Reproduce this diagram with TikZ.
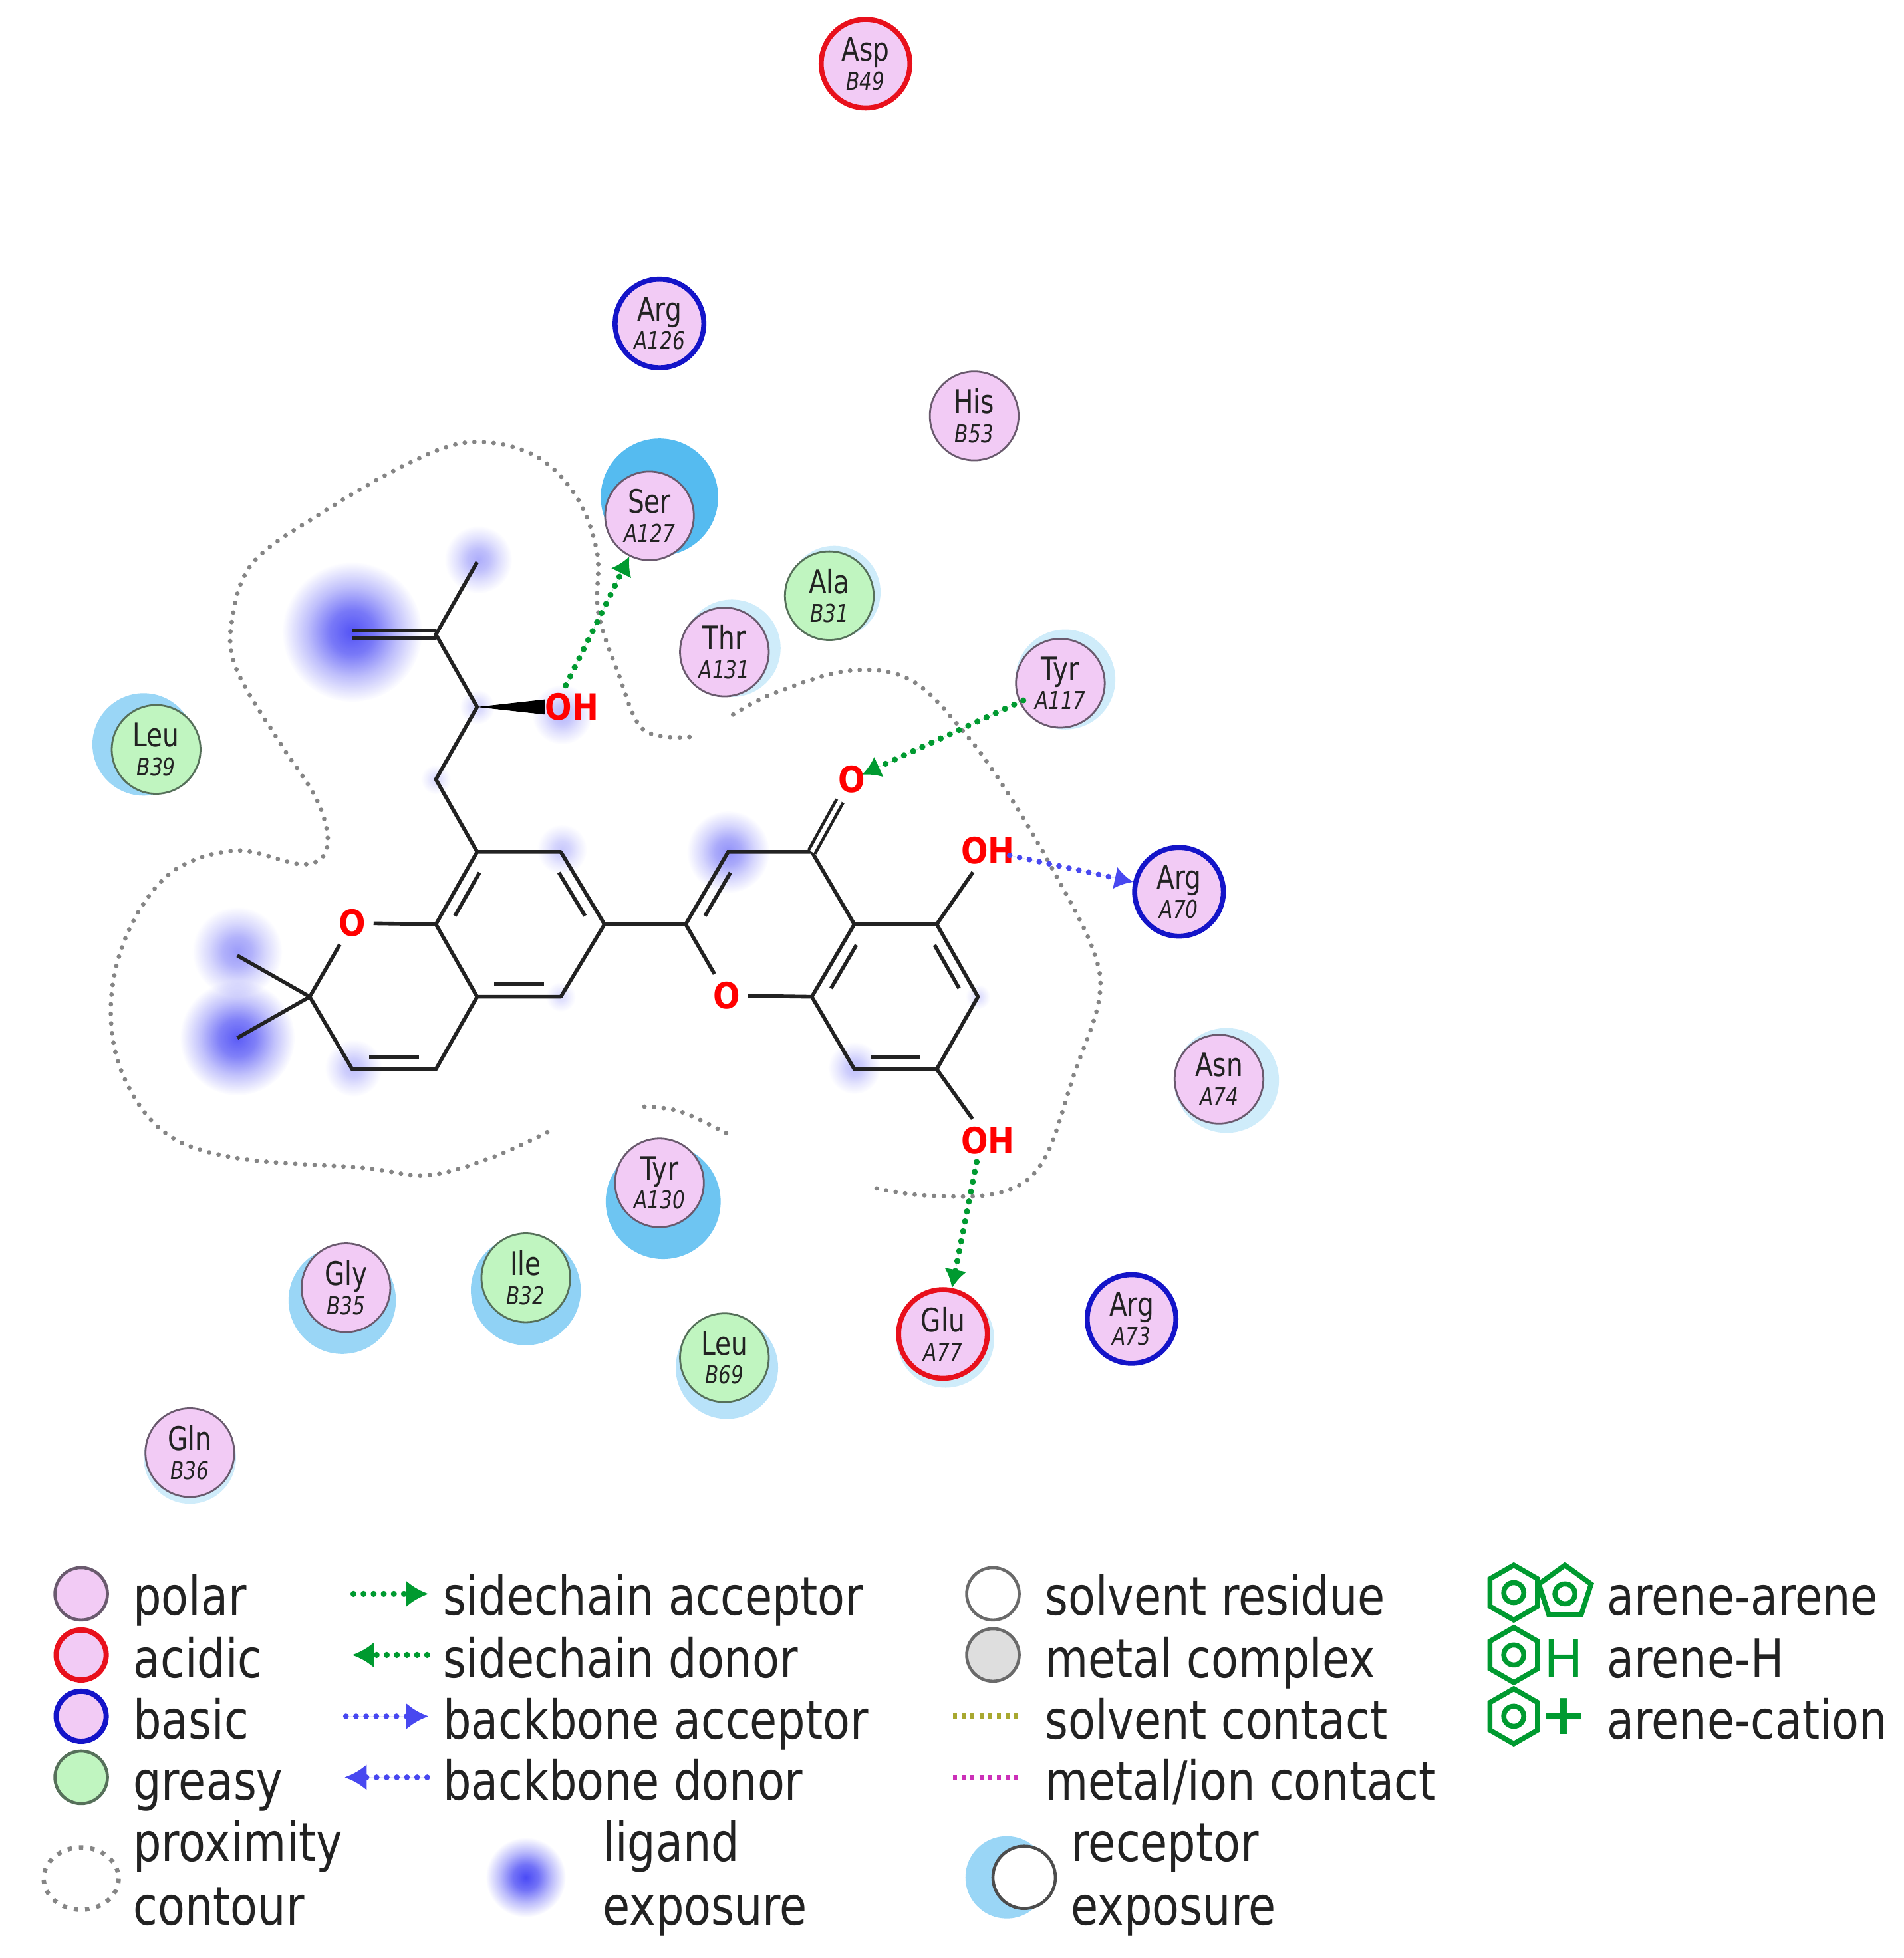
\documentclass[tikz,border=0pt]{standalone}
\usepackage{fontspec}
\usetikzlibrary{arrows.meta,calc,fadings,shapes.geometric}
\newfontfamily\lgf{DejaVu Sans}[FakeStretch=0.83]
\newfontfamily\resf{DejaVu Sans}[FakeStretch=0.8]
\newfontfamily\atomf{DejaVu Sans}[FakeStretch=0.88]
\newfontfamily\plainf{DejaVu Sans}
\definecolor{polarfill}{HTML}{F2CBF5}
\definecolor{greasyfill}{HTML}{C0F5C0}
\definecolor{polaredge}{HTML}{6A5A6E}
\definecolor{greasyedge}{HTML}{56705A}
\definecolor{acid}{HTML}{E8101C}
\definecolor{base}{HTML}{1414C8}
\definecolor{expA}{HTML}{55BBF0}
\definecolor{expB}{HTML}{9AD6F6}
\definecolor{expC}{HTML}{CFECFA}
\definecolor{blob}{HTML}{4A4AF5}
\definecolor{hbgreen}{HTML}{009A30}
\definecolor{hbblue}{HTML}{4848F0}
\definecolor{dotgrey}{HTML}{858585}
\definecolor{inkc}{HTML}{222222}
\definecolor{aregreen}{HTML}{009A30}
\definecolor{solv}{HTML}{A8A830}
\definecolor{metalc}{HTML}{CC30B8}
\pgfdeclareradialshading{blobshade}{\pgfpoint{0bp}{0bp}}{color(0bp)=(pgftransparent!0); color(8bp)=(pgftransparent!22); color(16bp)=(pgftransparent!62); color(25bp)=(pgftransparent!100); color(50bp)=(pgftransparent!100)}
\pgfdeclarefading{blobfade}{\pgfuseshading{blobshade}}
\newcommand{\resid}[2]{{\fontsize{7.4pt}{6.6pt}\selectfont #1}\\{\fontsize{5.6pt}{6.6pt}\itshape\selectfont #2}}
\newcommand{\inbond}[3]{\draw[bondline] ($(#1)!.14!(#2)!.17!(#3)$) -- ($(#2)!.14!(#1)!.17!(#3)$);}
\tikzset{
  residue/.style={circle,inner sep=0pt,minimum size=0.71cm,align=center,text=inkc,font=\resf\fontsize{7.4pt}{6.6pt}\selectfont,line width=0.42pt},
  rpolar/.style={residue,draw=polaredge,fill=polarfill},
  rgreasy/.style={residue,draw=greasyedge,fill=greasyfill},
  racid/.style={residue,draw=acid,fill=polarfill,line width=1.15pt},
  rbasic/.style={residue,draw=base,fill=polarfill,line width=1.15pt},
  bondline/.style={draw=inkc,line width=0.85pt},
  atomlab/.style={text=red,font=\atomf\bfseries\fontsize{8.2pt}{9pt}\selectfont,inner sep=1.6pt},
  contour/.style={draw=dotgrey,line width=1.05pt,line cap=round,dash pattern=on 0pt off 2.2pt},
  hbg/.style={draw=hbgreen,fill=hbgreen,line width=1.4pt,line cap=round,dash pattern=on 0pt off 2.3pt,-{Latex[length=4.2pt,width=5.2pt]}},
  hbb/.style={draw=hbblue,fill=hbblue,line width=1.3pt,line cap=round,dash pattern=on 0pt off 2.3pt,-{Latex[length=4.2pt,width=5.2pt]}},
  legtext/.style={anchor=base west,inner sep=0pt,text=inkc,font=\lgf\fontsize{12.2pt}{14pt}\selectfont},
  legdot/.style={line width=1.2pt,dash pattern=on 0.9pt off 1.1pt},
  hexa/.style={regular polygon,regular polygon sides=6,draw=aregreen,line width=1.15pt,inner sep=0pt,minimum size=0.44cm,shape border rotate=30},
  penta/.style={regular polygon,regular polygon sides=5,draw=aregreen,line width=1.15pt,inner sep=0pt,minimum size=0.44cm},
  aring/.style={circle,draw=aregreen,line width=1.15pt,inner sep=0pt,minimum size=0.16cm},
  expo/.style={fill=blob,path fading=blobfade}
}
\begin{document}
\begin{tikzpicture}[x=0.01cm,y=-0.01cm]
\useasboundingbox (0,0) rectangle (1524,1567.6);
% receptor exposure
\fill[expA] (528,398) circle (47);
\fill[expC] (668,474) circle (37);
\fill[expC] (586,519) circle (39);
\fill[expC] (853,544) circle (40);
\fill[expB] (115,596) circle (41);
\fill[expC] (982,865) circle (42);
\fill[expA!85] (531,962) circle (46);
\fill[expB] (274,1041) circle (43);
\fill[expB!85!expA] (421,1033) circle (44);
\fill[expB!70] (582,1095) circle (41);
\fill[expC] (757,1072) circle (39);
\fill[expC] (152,1167) circle (37);
% ligand exposure
\foreach \px/\py/\pr/\po in {282/506/56/0.95,383/448/27/0.45,190/831/46/0.9,190/762/36/0.55,450/572/24/0.4,450/680/20/0.3,583/682/33/0.6,684/855/21/0.35,283/855/23/0.35,382/566/14/0.25,349/624/12/0.2,449/798/12/0.2,783/798/10/0.2}
  {\fill[expo,fill opacity=\po] (\px,\py) circle (\pr);}
% proximity contours
\draw[contour] plot[smooth,tension=0.6] coordinates {(552,590)(515,584)(495,539)(479,490)(478,442)(461,397)(427,364)(376,354)(325,372)(257,411)(203,450)(186,495)(189,535)(223,593)(254,641)(262,678)(243,692)(189,681)(138,698)(104,743)(89,800)(97,857)(131,906)(189,927)(291,935)(342,941)(393,927)(439,906)};
\draw[contour] plot[smooth,tension=0.6] coordinates {(587,572)(620,555)(680,537)(730,545)(775,590)(810,640)(845,700)(875,760)(880,800)(860,860)(835,930)(800,955)(740,957)(695,950)};
\draw[contour] plot[smooth,tension=0.6] coordinates {(516,886)(545,890)(583,908)};
% atoms
\foreach \n/\px/\py in {a1/382/682,a2/449/682,a3/484/740,a4/449/798,a5/382/798,a6/349/740,
  p1/248/798,p2/282/856,p3/349/856,m1/190/765,m2/190/831,
  c1/349/624,c2/382/566,c3/349/508,c4/382/450,c5/282/508,
  b1/549/740,b2/583/682,b3/650/682,b4/684/740,b5/650/798,
  d1/750/740,d2/783/798,d3/750/856,d4/684/856}
  {\coordinate (\n) at (\px,\py);}
\coordinate (lc) at (416,740);
\coordinate (lp) at (315,798);
\coordinate (rp) at (617,740);
\coordinate (rc) at (717,798);
\node[atomlab] (o1) at (282,739) {O};
\node[atomlab] (o2) at (582,797) {O};
\node[atomlab] (o3) at (682,624) {O};
\node[atomlab] (oh1) at (458,566) {OH};
\node[atomlab] (oh2) at (791,681) {OH};
\node[atomlab] (oh3) at (791,913) {OH};
% bonds
\draw[bondline,line join=round] (a1)--(a2)--(a3)--(a4)--(a5)--(a6)--(a1);
\draw[bondline] (a5)--(p3)--(p2)--(p1)--(o1)--(a6);
\draw[bondline] (p1)--(m1);
\draw[bondline] (p1)--(m2);
\draw[bondline] (a1)--(c1)--(c2)--(c3)--(c4);
\draw[bondline] ($(c3)+(0,3)$)--($(c5)+(0,3)$);
\draw[bondline] ($(c3)+(0,-3)$)--($(c5)+(0,-3)$);
\fill[black] (c2)--(436,560)--(436,572)--cycle;
\draw[bondline] (a3)--(b1)--(b2)--(b3)--(b4)--(b5)--(o2)--(b1);
\draw[bondline] (b4)--(d1)--(d2)--(d3)--(d4)--(b5);
\draw[bondline] (d1)--(oh2);
\draw[bondline] (d3)--(oh3);
\draw[draw=inkc,double,double distance=0.95pt,line width=0.7pt] (b3)--(o3);
\inbond{a1}{a6}{lc}
\inbond{a2}{a3}{lc}
\inbond{a4}{a5}{lc}
\inbond{p2}{p3}{lp}
\inbond{b1}{b2}{rp}
\inbond{b4}{b5}{rc}
\inbond{d1}{d2}{rc}
\inbond{d3}{d4}{rc}
% residues
\node[racid] (asp) at (693,51) {\resid{Asp}{B49}};
\node[rbasic] (arg1) at (528,259) {\resid{Arg}{A126}};
\node[rpolar] (his) at (780,333) {\resid{His}{B53}};
\node[rpolar] (ser) at (520,413) {\resid{Ser}{A127}};
\node[rgreasy] (ala) at (664,477) {\resid{Ala}{B31}};
\node[rpolar] (thr) at (580,522) {\resid{Thr}{A131}};
\node[rpolar] (tyr1) at (849,547) {\resid{Tyr}{A117}};
\node[rgreasy] (leu1) at (125,600) {\resid{Leu}{B39}};
\node[rbasic] (arg2) at (944,714) {\resid{Arg}{A70}};
\node[rpolar] (asn) at (976,864) {\resid{Asn}{A74}};
\node[rpolar] (tyr2) at (528,947) {\resid{Tyr}{A130}};
\node[rpolar] (gly) at (277,1031) {\resid{Gly}{B35}};
\node[rgreasy] (ile) at (421,1023) {\resid{Ile}{B32}};
\node[rgreasy] (leu2) at (580,1087) {\resid{Leu}{B69}};
\node[racid] (glu) at (755,1068) {\resid{Glu}{A77}};
\node[rbasic] (arg3) at (906,1056) {\resid{Arg}{A73}};
\node[rpolar] (gln) at (152,1163) {\resid{Gln}{B36}};
% interactions
\draw[hbg] ($(oh1.north)+(-5,0)$)--(ser);
\draw[hbg,shorten >=-2.8pt,shorten <=-1pt] (tyr1)--(o3);
\draw[hbb,shorten <=-3pt] (oh2)--(arg2);
\draw[hbg] ($(oh3.south)+(-9,0)$)--(glu);
% legend column 1
\node[circle,minimum size=0.42cm,inner sep=0pt,draw=polaredge,fill=polarfill,line width=0.7pt] (l1) at (65,1276) {};
\node[circle,minimum size=0.40cm,inner sep=0pt,draw=acid,fill=polarfill,line width=1.2pt] (l2) at (65,1325) {};
\node[circle,minimum size=0.40cm,inner sep=0pt,draw=base,fill=polarfill,line width=1.2pt] (l3) at (65,1374) {};
\node[circle,minimum size=0.42cm,inner sep=0pt,draw=greasyedge,fill=greasyfill,line width=0.7pt] (l4) at (65,1423) {};
\draw[contour,line width=1pt,dash pattern=on 1pt off 1.6pt,line cap=butt] (65,1504) ellipse (30 and 25);
\node[legtext] (t1) at (106,1293) {polar};
\node[legtext] (t2) at (106,1343) {acidic};
\node[legtext] (t3) at (106,1392) {basic};
\node[legtext] (t4) at (106,1441) {greasy};
\node[legtext] (t5) at (106,1490) {proximity};
\node[legtext] (t6) at (106,1541) {contour};
% legend column 2
\coordinate (g1a) at (283,1276); \coordinate (g1b) at (343,1276);
\coordinate (g2a) at (342,1325); \coordinate (g2b) at (282,1325);
\coordinate (g3a) at (277,1374); \coordinate (g3b) at (343,1374);
\coordinate (g4a) at (342,1423); \coordinate (g4b) at (276,1423);
\draw[hbg,-{Latex[length=5pt,width=6pt]}] (g1a)--(g1b);
\draw[hbg,-{Latex[length=5pt,width=6pt]}] (g2a)--(g2b);
\draw[hbb,-{Latex[length=5pt,width=6pt]}] (g3a)--(g3b);
\draw[hbb,-{Latex[length=5pt,width=6pt]}] (g4a)--(g4b);
\node[legtext] (u1) at (354,1293) {sidechain acceptor};
\node[legtext] (u2) at (354,1343) {sidechain donor};
\node[legtext] (u3) at (354,1392) {backbone acceptor};
\node[legtext] (u4) at (354,1441) {backbone donor};
\fill[expo] (421,1503) circle (32);
\node[legtext] (u5) at (482,1490) {ligand};
\node[legtext] (u6) at (482,1541) {exposure};
% legend column 3
\node[circle,minimum size=0.42cm,inner sep=0pt,draw=dotgrey!80!black,fill=white,line width=0.7pt] (v1) at (795,1276) {};
\node[circle,minimum size=0.42cm,inner sep=0pt,draw=dotgrey!80!black,fill=black!13,line width=0.7pt] (v2) at (795,1325) {};
\coordinate (s1) at (763,1374); \coordinate (s2) at (818,1374);
\coordinate (s3) at (763,1423); \coordinate (s4) at (818,1423);
\draw[legdot,draw=solv] (s1)--(s2);
\draw[legdot,draw=metalc] (s3)--(s4);
\node[legtext] (v3) at (836,1293) {solvent residue};
\node[legtext] (v4) at (836,1343) {metal complex};
\node[legtext] (v5) at (836,1392) {solvent contact};
\node[legtext] (v6) at (836,1441) {metal/ion contact};
\fill[expB] (806,1503) circle (33);
\node[circle,minimum size=0.50cm,inner sep=0pt,draw=black!70,fill=white,line width=0.7pt] (v7) at (820,1503) {};
\node[legtext] (v8) at (857,1490) {receptor};
\node[legtext] (v9) at (857,1541) {exposure};
% legend column 4
\node[hexa] (h1) at (1212,1275) {};
\node[penta] (h2) at (1253,1275) {};
\node[aring] (r1) at (1212,1275) {};
\node[aring] (r2) at (1253,1276) {};
\node[hexa] (h3) at (1212,1325) {};
\node[aring] (r3) at (1212,1325) {};
\node[hexa] (h4) at (1212,1374) {};
\node[aring] (r4) at (1212,1374) {};
\node[anchor=base,inner sep=0pt,text=aregreen,font=\plainf\fontsize{12pt}{14pt}\selectfont] (hh) at (1252,1343) {H};
\node[inner sep=0pt,text=aregreen,font=\plainf\bfseries\fontsize{13pt}{14pt}\selectfont] (pl) at (1252,1374) {+};
\node[legtext] (w1) at (1286,1293) {arene-arene};
\node[legtext] (w2) at (1286,1343) {arene-H};
\node[legtext] (w3) at (1286,1392) {arene-cation};
\end{tikzpicture}
\end{document}
